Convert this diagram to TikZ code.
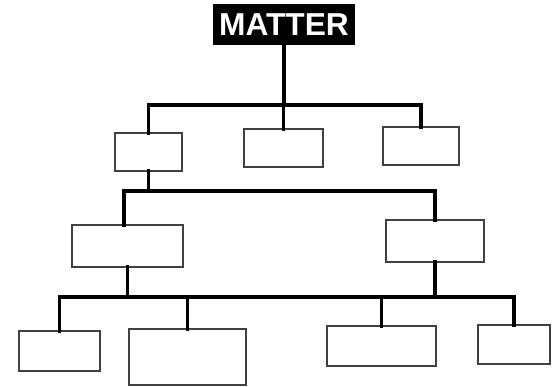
\documentclass[tikz,border=0pt]{standalone}
\usepackage{fontspec}
\setmainfont{Liberation Sans}
\begin{document}
\begin{tikzpicture}[x=1pt,y=-1pt,
  box/.style={draw=black!75, line width=1.1pt, fill=white, inner sep=0pt, outer sep=0pt},
  conn/.style={line width=3.3pt, line join=miter, line cap=rect}]
\useasboundingbox (0,0) rectangle (557,387);
\node[fill=black, text=white, font=\bfseries\fontsize{31.7}{31.7}\selectfont, inner sep=0pt, outer sep=0pt,
      minimum width=142pt, minimum height=41pt] (matter) at (284,24.5) {MATTER};
% level 1
\node[box, minimum width=67pt, minimum height=38pt] (a) at (148.5,152) {};
\node[box, minimum width=79pt, minimum height=38pt] (b) at (283.5,148) {};
\node[box, minimum width=76pt, minimum height=38pt] (c) at (421,146) {};
% level 2
\node[box, minimum width=111pt, minimum height=42pt] (d) at (127.5,246) {};
\node[box, minimum width=98pt, minimum height=42pt] (g) at (435,241) {};
% level 3
\node[box, minimum width=81pt, minimum height=40pt] (e) at (59.5,351) {};
\node[box, minimum width=117pt, minimum height=56pt] (f) at (187.5,357) {};
\node[box, minimum width=109pt, minimum height=40pt] (h) at (381.5,346) {};
\node[box, minimum width=72pt, minimum height=39pt] (i) at (514,344.5) {};
% connectors
\coordinate (l1) at (0,105);
\coordinate (l2) at (0,191);
\coordinate (l3) at (0,297);
\draw[conn] (matter.south) -- (matter.south |- l1);
\draw[conn] (a.north) |- (l1 -| c.north) -- (c.north);
\draw[conn] (b.north) -- (b.north |- l1);
\draw[conn] (a.south) -- (a.south |- l2);
\draw[conn] ([xshift=-3.5pt]d.north) |- (l2 -| g.north) -- (g.north);
\draw[conn] (d.south) -- (d.south |- l3);
\draw[conn] (g.south) -- (g.south |- l3);
\draw[conn] (e.north) |- (l3 -| i.north) -- (i.north);
\draw[conn] (f.north) -- (f.north |- l3);
\draw[conn] (h.north) -- (h.north |- l3);
\end{tikzpicture}
\end{document}
